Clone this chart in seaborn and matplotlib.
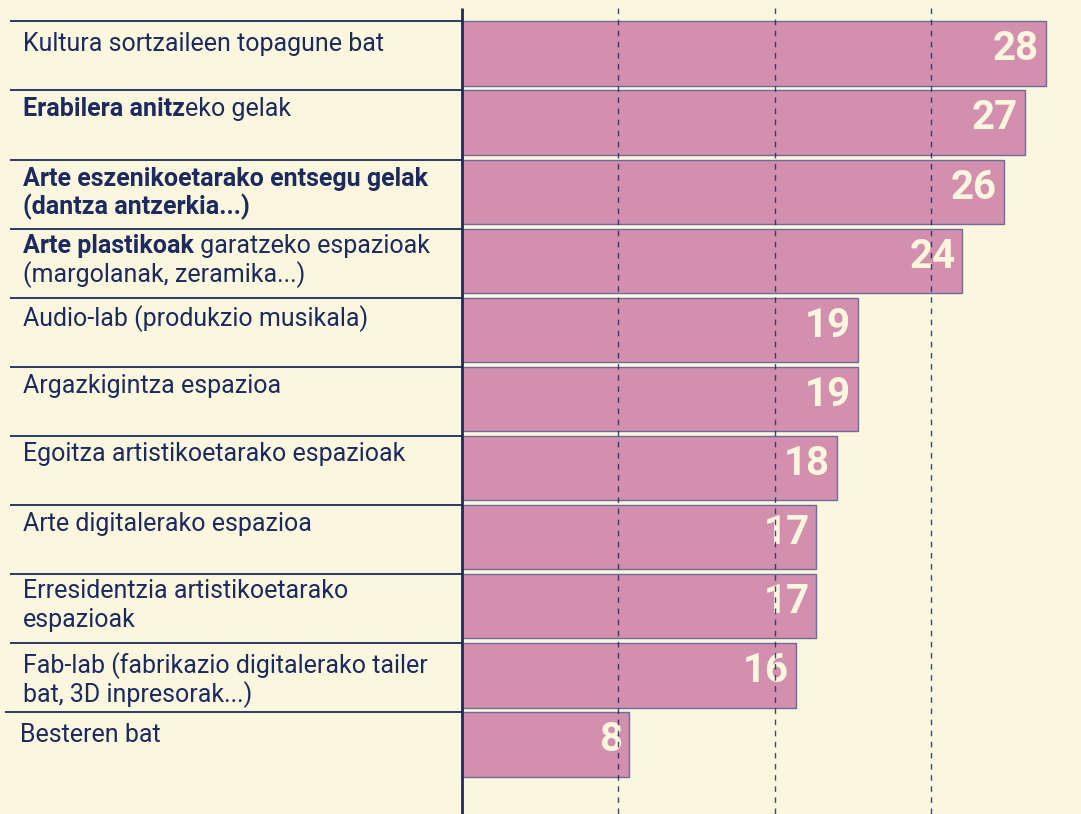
import matplotlib
matplotlib.use("Agg")
import matplotlib.pyplot as plt
import seaborn as sns
import pandas as pd

# ---- data ----
categories = [
    "Kultura sortzaileen topagune bat",
    "Erabilera anitzeko gelak",
    "Arte eszenikoetarako entsegu gelak (dantza antzerkia...)",
    "Arte plastikoak garatzeko espazioak (margolanak, zeramika...)",
    "Audio-lab (produkzio musikala)",
    "Argazkigintza espazioa",
    "Egoitza artistikoetarako espazioak",
    "Arte digitalerako espazioa",
    "Erresidentzia artistikoetarako espazioak",
    "Fab-lab (fabrikazio digitalerako tailer bat, 3D inpresorak...)",
    "Besteren bat",
]
values = [28, 27, 26, 24, 19, 19, 18, 17, 17, 16, 8]
# label lines, each a list of (text, is_bold) segments
label_lines = [
    [[("Kultura sortzaileen topagune bat", False)]],
    [[("Erabilera anitz", True), ("eko gelak", False)]],
    [[("Arte eszenikoetarako entsegu gelak", True)], [("(dantza antzerkia...)", True)]],
    [[("Arte plastikoak", True), (" garatzeko espazioak", False)], [("(margolanak, zeramika...)", False)]],
    [[("Audio-lab (produkzio musikala)", False)]],
    [[("Argazkigintza espazioa", False)]],
    [[("Egoitza artistikoetarako espazioak", False)]],
    [[("Arte digitalerako espazioa", False)]],
    [[("Erresidentzia artistikoetarako", False)], [("espazioak", False)]],
    [[("Fab-lab (fabrikazio digitalerako tailer", False)], [("bat, 3D inpresorak...)", False)]],
    [[("Besteren bat", False)]],
]
grid_positions = [7.5, 15, 22.5]

# ---- style / layout ----
BG = "#FAF7DE"
NAVY = "#1D2A5E"
BAR = "#D290AE"
BAR_EDGE = "#6F6A9C"
CREAM = "#FAF7DE"

W, H = 1081, 814
X0_PX, PX_PER_UNIT = 462.0, 20.85
ROW0_PX, ROW_PX = 53.5, 69.1
BAR_W = 0.93
BASELINE_OFFSETS_PX = [30, 26, 26, 24, 28, 26, 25, 26, 24, 30, 30]
LINE_SPACING_PX = 29


def xd(px):
    return (px - X0_PX) / PX_PER_UNIT


def yd(px):
    return (px - ROW0_PX) / ROW_PX


sns.set_theme(style="white")
plt.rcParams["font.family"] = ["Roboto", "DejaVu Sans"]

fig = plt.figure(figsize=(W / 100, H / 100), dpi=100, facecolor=BG)
ax = fig.add_axes([0, 0, 1, 1])
ax.set_facecolor(BG)

df = pd.DataFrame({"cat": categories, "val": values})
sns.barplot(data=df, x="val", y="cat", orient="h", color=BAR, saturation=1,
            width=BAR_W, edgecolor=BAR_EDGE, linewidth=1, ax=ax, zorder=2)

ax.set_xlim(xd(0), xd(W))
ax.set_ylim(yd(H), yd(0))
ax.set_axis_off()

# value labels
for i, v in enumerate(values):
    ax.text(v - 7 / PX_PER_UNIT, i - 0.06, str(v), ha="right", va="center",
            fontsize=29, fontweight="bold", color=CREAM, zorder=4)

# grid lines (dashed, on top)
ax.vlines(grid_positions, yd(8), yd(H + 5), colors=NAVY, linestyles=(0, (4, 4)),
          linewidth=1, zorder=5, alpha=0.85)
# main axis line
ax.vlines([0], yd(8), yd(H + 5), colors=NAVY, linewidth=2, zorder=6)

# separators and labels
for i, lines in enumerate(label_lines):
    sep_y = i - BAR_W / 2
    left_px = 5 if i == len(label_lines) - 1 else 10
    ax.hlines(sep_y, xd(left_px), 0, colors=NAVY, linewidth=1.3, zorder=3)
    text_x = xd(20 if i == len(label_lines) - 1 else 23)
    for j, segs in enumerate(lines):
        base_y = sep_y + (BASELINE_OFFSETS_PX[i] + LINE_SPACING_PX * j) / ROW_PX
        prev = None
        for text, bold in segs:
            kw = dict(fontsize=18, color=NAVY,
                      fontweight="bold" if bold else "normal", zorder=4)
            if prev is None:
                prev = ax.text(text_x, base_y, text, ha="left", va="baseline", **kw)
            else:
                prev = ax.annotate(text, xy=(1, 0), xycoords=prev,
                                   ha="left", va="bottom", **kw)

fig.savefig("out.png", dpi=100, facecolor=BG)
